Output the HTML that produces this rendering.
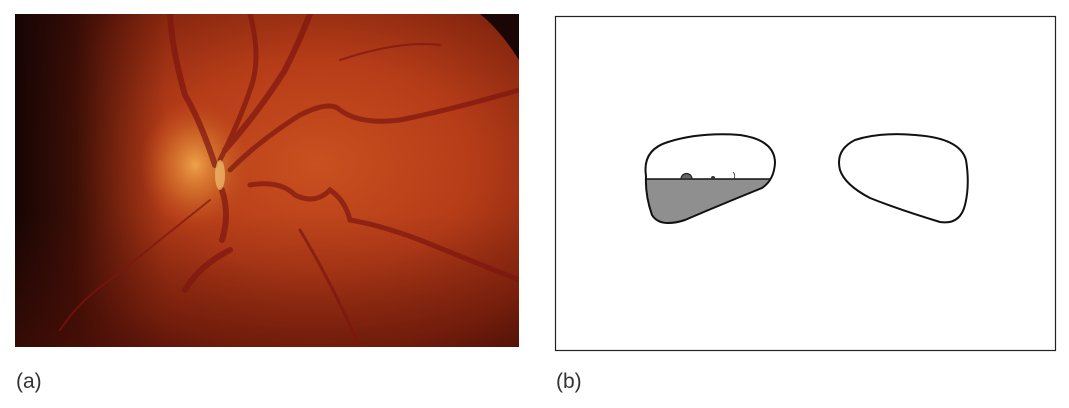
<!DOCTYPE html>
<html><head><meta charset="utf-8"><style>
body{margin:0;width:1069px;height:408px;background:#fff;overflow:hidden;font-family:"Liberation Sans",sans-serif}
.lbl{position:absolute;font-size:21px;color:#333}
</style></head><body>
<svg width="1069" height="408" style="position:absolute;left:0;top:0">
<defs>
<radialGradient id="bg" cx="0.6" cy="0.45" r="0.7">
<stop offset="0" stop-color="#c9501f"/><stop offset="0.45" stop-color="#b53c18"/><stop offset="0.8" stop-color="#82240e"/><stop offset="1" stop-color="#4a1008"/></radialGradient>
<linearGradient id="lf" x1="0" x2="1" y1="0" y2="0"><stop offset="0" stop-color="#160504" stop-opacity="1"/><stop offset="0.12" stop-color="#2e0a05" stop-opacity="0.85"/><stop offset="0.3" stop-color="#5a180a" stop-opacity="0"/></linearGradient>
<linearGradient id="bt" x1="0" x2="0" y1="0" y2="1"><stop offset="0.6" stop-color="#5a1208" stop-opacity="0"/><stop offset="1" stop-color="#5a1208" stop-opacity="0.45"/></linearGradient>
<radialGradient id="disc" cx="0.5" cy="0.5" r="0.5"><stop offset="0" stop-color="#eea24a"/><stop offset="0.5" stop-color="#d8792e" stop-opacity="0.6"/><stop offset="1" stop-color="#c05020" stop-opacity="0"/></radialGradient>
<clipPath id="cp"><rect x="15" y="14" width="504" height="333"/></clipPath>
</defs>
<g clip-path="url(#cp)">
<rect x="15" y="14" width="504" height="333" fill="url(#bg)"/>
<rect x="15" y="14" width="504" height="333" fill="url(#lf)"/>
<rect x="15" y="14" width="504" height="333" fill="url(#bt)"/>
<ellipse cx="195" cy="165" rx="55" ry="65" fill="url(#disc)"/>
<path d="M480 14 L519 14 L519 60 Q500 30 480 14Z" fill="#1a0604"/>
<g fill="none" stroke="#7e1610" stroke-linecap="round" opacity="0.7">
<path d="M215 165 Q200 120 185 95 Q172 50 170 14" stroke-width="6"/>
<path d="M220 160 Q240 120 250 90 Q262 60 250 14" stroke-width="5"/>
<path d="M225 150 Q260 110 285 70 Q300 40 310 14" stroke-width="6"/>
<path d="M230 170 Q260 140 300 115 Q330 100 340 110 Q360 125 400 120 Q450 110 519 90" stroke-width="5"/>
<path d="M222 190 Q230 215 222 240" stroke-width="6"/>
<path d="M250 185 Q280 180 295 195 Q315 205 330 190 Q345 200 350 220 Q380 225 420 240 Q470 260 519 280" stroke-width="5"/>
<path d="M210 200 Q160 240 110 280 Q80 300 60 330" stroke-width="2"/>
<path d="M230 250 Q200 265 185 290" stroke-width="6"/>
<path d="M300 230 Q330 280 360 347" stroke-width="3"/>
<path d="M340 60 Q400 40 440 45" stroke-width="2"/>
</g>
<ellipse cx="220" cy="175" rx="5" ry="15" fill="#f0c070" opacity="0.7"/>
</g>
<rect x="555.5" y="16.5" width="500" height="334" fill="#fff" stroke="#222" stroke-width="1.2"/>
<defs><clipPath id="fl"><rect x="640" y="179" width="140" height="50"/></clipPath></defs>
<path d="M646 176 Q642 150 668 142 Q700 132 740 135 Q775 140 775 163 Q774 180 762 188 Q720 205 685 220 Q660 228 652 215 Q645 195 646 176Z" fill="#fff"/>
<path d="M646 176 Q642 150 668 142 Q700 132 740 135 Q775 140 775 163 Q774 180 762 188 Q720 205 685 220 Q660 228 652 215 Q645 195 646 176Z" fill="#8f8f8f" clip-path="url(#fl)"/>
<path d="M646 176 Q642 150 668 142 Q700 132 740 135 Q775 140 775 163 Q774 180 762 188 Q720 205 685 220 Q660 228 652 215 Q645 195 646 176Z" fill="none" stroke="#111" stroke-width="2"/>
<line x1="645" y1="179" x2="770" y2="179" stroke="#111" stroke-width="1.6"/>
<path d="M681 179 A5.5 5.5 0 0 1 692 179Z" fill="#666" stroke="#222" stroke-width="1.2"/>
<circle cx="713" cy="178" r="2" fill="#333"/>
<path d="M733 172 Q736 175 734 179" fill="none" stroke="#222" stroke-width="0.8"/>
<path d="M840 170 Q835 150 855 140 Q880 132 915 135 Q960 138 966 160 Q970 185 965 205 Q960 225 940 222 Q900 210 870 198 Q845 185 840 170Z" fill="none" stroke="#111" stroke-width="2"/>
</svg>
<div class="lbl" style="left:16px;top:370px">(a)</div>
<div class="lbl" style="left:556px;top:370px">(b)</div>
</body></html>
